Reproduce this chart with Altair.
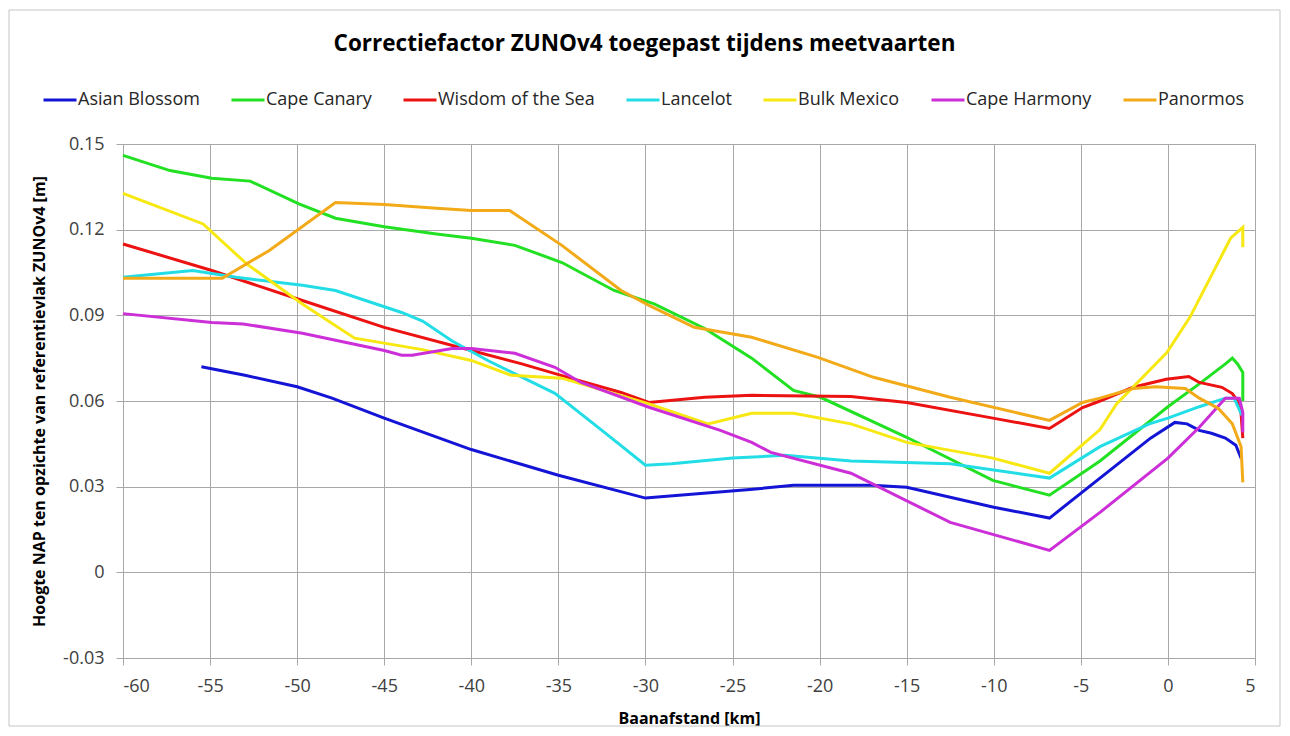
import altair as alt
import pandas as pd

series_names = ["Asian Blossom", "Cape Canary", "Wisdom of the Sea", "Lancelot",
                "Bulk Mexico", "Cape Harmony", "Panormos"]
series_colors = ["#1414d6", "#22e022", "#ec1212", "#22dde6", "#f7e812", "#cc2fd8", "#f2aa18"]

asian_x = [-55.5, -53, -50, -48, -45, -40, -35, -30, -24, -21.5, -17, -15, -10, -6.8, -1, 0.4, 1.1, 1.8, 2.5, 3.3, 3.9, 4.2]
asian_y = [0.072, 0.069, 0.065, 0.061, 0.054, 0.043, 0.034, 0.026, 0.029, 0.0305, 0.0305, 0.0298, 0.0228, 0.019, 0.047, 0.0525, 0.052, 0.0497, 0.0487, 0.047, 0.0445, 0.040]

canary_x = [-60, -57.3, -54.9, -52.7, -49.9, -47.8, -45, -42, -40, -37.5, -34.8, -31.8, -29.5, -26.6, -23.9, -21.5, -19.95, -15, -10.05, -6.8, -3.9, 0, 1.8, 3.3, 3.7, 4.0, 4.3, 4.3]
canary_y = [0.146, 0.1407, 0.138, 0.137, 0.129, 0.124, 0.121, 0.1185, 0.117, 0.1145, 0.1085, 0.0987, 0.094, 0.0854, 0.075, 0.0637, 0.0613, 0.0473, 0.0322, 0.027, 0.039, 0.058, 0.066, 0.073, 0.075, 0.073, 0.070, 0.060]

wisdom_x = [-60, -54.9, -49.7, -45, -40, -37.1, -34.3, -31.4, -29.8, -26.6, -23.9, -18.2, -15, -10.05, -6.8, -4.9, -3.9, -2.0, -0.1, 1.2, 1.8, 3.1, 3.7, 4.0, 4.2, 4.3]
wisdom_y = [0.115, 0.1057, 0.0952, 0.0858, 0.0777, 0.073, 0.068, 0.063, 0.0595, 0.0613, 0.062, 0.0616, 0.0595, 0.054, 0.0504, 0.0577, 0.060, 0.0648, 0.0676, 0.0686, 0.0665, 0.0648, 0.0626, 0.060, 0.0557, 0.047]

lancelot_x = [-60, -56, -53.5, -49.7, -47.8, -44, -42.8, -41.1, -39, -35.2, -32.5, -30, -28.5, -25, -22, -18.2, -12.5, -6.8, -3.9, -1.07, 0, 1.8, 3.3, 3.8, 4.1, 4.25]
lancelot_y = [0.1033, 0.1057, 0.1033, 0.1005, 0.0987, 0.091, 0.088, 0.081, 0.074, 0.0627, 0.0497, 0.0375, 0.038, 0.040, 0.041, 0.039, 0.038, 0.033, 0.044, 0.052, 0.054, 0.058, 0.061, 0.061, 0.057, 0.055]

bulk_x = [-60, -55.4, -52.9, -49.7, -46.7, -42.8, -40, -37.7, -34.8, -29.8, -26.4, -23.9, -21.5, -18.2, -15, -10.05, -6.8, -3.9, -2.95, -0.06, 1.26, 3.6, 4.3, 4.3]
bulk_y = [0.1327, 0.122, 0.108, 0.094, 0.082, 0.078, 0.0742, 0.069, 0.068, 0.059, 0.052, 0.0557, 0.0557, 0.052, 0.0455, 0.040, 0.0347, 0.050, 0.059, 0.077, 0.0893, 0.117, 0.1208, 0.1138]

harmony_x = [-60, -54.9, -53.1, -49.7, -45, -44, -43.4, -41.1, -40, -37.5, -35.2, -33.7, -29.8, -25.7, -23.9, -22.8, -18.2, -12.5, -6.8, -3.9, 0, 1.8, 3.3, 4.1, 4.3, 4.3]
harmony_y = [0.0906, 0.0875, 0.087, 0.0837, 0.0777, 0.076, 0.076, 0.0784, 0.0784, 0.0767, 0.0718, 0.0665, 0.0578, 0.0497, 0.0455, 0.042, 0.0347, 0.0175, 0.0077, 0.021, 0.040, 0.0508, 0.061, 0.061, 0.056, 0.049]

panormos_x = [-60, -54.3, -51.6, -47.8, -45, -42, -40, -37.8, -34.8, -31.4, -29.8, -27.2, -23.9, -20.1, -16.9, -12.5, -6.8, -4.9, -3.9, -2.0, -0.7, 1.0, 1.8, 2.9, 3.7, 4.2, 4.3]
panormos_y = [0.103, 0.103, 0.1127, 0.1295, 0.1288, 0.1275, 0.1267, 0.1267, 0.1145, 0.0987, 0.0935, 0.0858, 0.0823, 0.0753, 0.0683, 0.0613, 0.0532, 0.0595, 0.061, 0.0644, 0.065, 0.0644, 0.061, 0.0574, 0.052, 0.044, 0.0315]

x_ticks = list(range(-60, 6, 5))
y_ticks = [-0.03, 0, 0.03, 0.06, 0.09, 0.12, 0.15]

all_x = [asian_x, canary_x, wisdom_x, lancelot_x, bulk_x, harmony_x, panormos_x]
all_y = [asian_y, canary_y, wisdom_y, lancelot_y, bulk_y, harmony_y, panormos_y]

rows = []
for name, xs, ys in zip(series_names, all_x, all_y):
    for i, (xv, yv) in enumerate(zip(xs, ys)):
        rows.append({"schip": name, "km": xv, "h": yv, "i": i})
df = pd.DataFrame(rows)

FONT = "Open Sans"
GRID = "#a8a8a8"

lines = alt.Chart(df).mark_line(strokeWidth=3, interpolate="linear").encode(
    x=alt.X("km:Q",
            scale=alt.Scale(domain=[-60, 5], nice=False, zero=False),
            axis=alt.Axis(values=x_ticks, title="Baanafstand [km]",
                          labelExpr="datum.value < 0 ? '-' + format(-datum.value, 'd') : format(datum.value, 'd')")),
    y=alt.Y("h:Q",
            scale=alt.Scale(domain=[-0.03, 0.15], nice=False, zero=False),
            axis=alt.Axis(values=y_ticks, title="Hoogte NAP ten opzichte van referentievlak ZUNOv4 [m]",
                          labelExpr="datum.value < -0.001 ? '-' + format(-datum.value, '.2f') : (abs(datum.value) < 0.001 ? '0' : format(datum.value, '.2f'))")),
    color=alt.Color("schip:N",
                    scale=alt.Scale(domain=series_names, range=series_colors),
                    legend=alt.Legend(title=None, orient="none", direction="horizontal", columns=7,
                                      legendX=-81, legendY=-62, symbolType="stroke",
                                      symbolSize=1089, symbolStrokeWidth=3, labelOffset=0,
                                      columnPadding=25, labelFontSize=18, labelFont=FONT,
                                      labelColor="#262626", padding=0, labelLimit=400)),
    order=alt.Order("i:Q"),
)

frame = alt.Chart(pd.DataFrame({"a": [0]})).mark_rect(fill=None, stroke="#c4c4c4", strokeWidth=1).encode(
    x=alt.value(-114), x2=alt.value(1157), y=alt.value(-134), y2=alt.value(582)
)

chart = alt.layer(frame, lines).properties(
    width=1132, height=514,
    padding={"left": 115, "top": 136, "right": 27, "bottom": 70},
    autosize=alt.AutoSizeParams(type="none"),
    title=alt.TitleParams("Correctiefactor ZUNOv4 toegepast tijdens meetvaarten",
                          font=FONT, fontSize=22.5, fontWeight="bold", color="#000000",
                          anchor="middle", frame="bounds", offset=-46),
).configure_axis(
    grid=True, gridColor=GRID, gridWidth=1, domainColor=GRID, tickColor=GRID,
    tickSize=7, labelFont=FONT, labelFontSize=18, labelColor="#404040",
    titleFont=FONT, titleFontSize=16, titleFontWeight="bold", titleColor="#000000",
).configure_axisX(labelPadding=12, titlePadding=15).configure_axisY(labelPadding=12, titlePadding=15
).configure_view(stroke=GRID)

chart.save("out.html", embed_options={"renderer": "svg", "actions": False})
